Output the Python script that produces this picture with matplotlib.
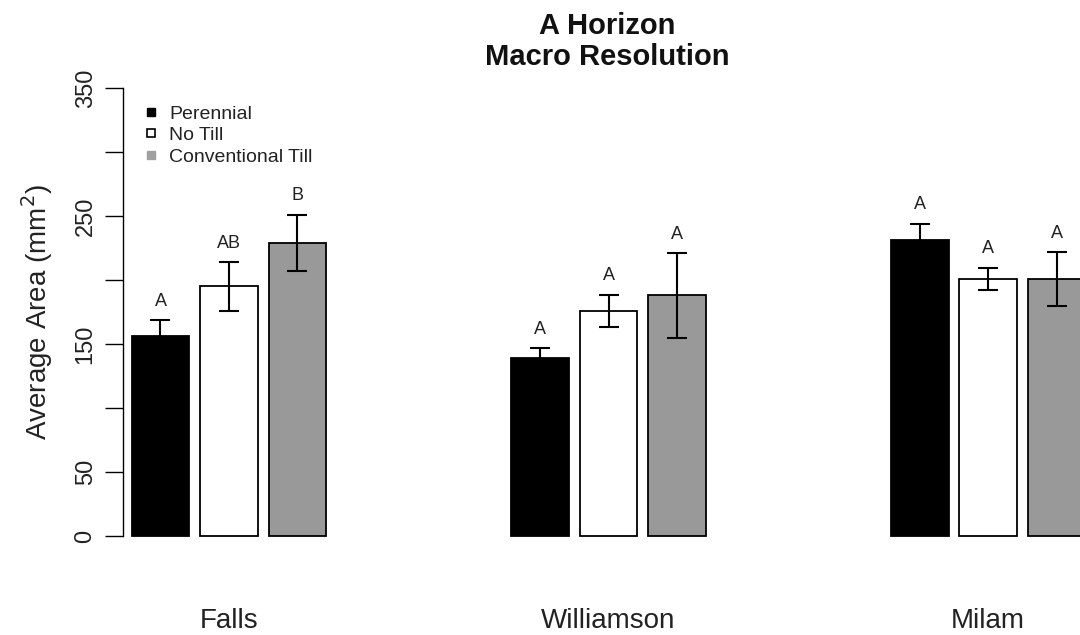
import matplotlib
matplotlib.use("Agg")
import matplotlib.pyplot as plt
from matplotlib.lines import Line2D
import numpy as np

plt.rcParams['font.family'] = ['Liberation Sans', 'DejaVu Sans']

# ---- data ----
sites = ["Falls", "Williamson", "Milam"]
treatments = ["Perennial", "No Till", "Conventional Till"]
perennial = [156, 139, 231]
no_till = [195, 176, 201]
conv_till = [229, 188, 201]
perennial_se = [12.5, 8, 13]
no_till_se = [19, 12.5, 8.7]
conv_till_se = [22, 33, 21]
perennial_grp = ["A", "A", "A"]
no_till_grp = ["AB", "A", "A"]
conv_till_grp = ["B", "A", "A"]
y_ticks = [0, 50, 100, 150, 200, 250, 300, 350]
y_tick_labels = ["0", "50", "", "150", "", "250", "", "350"]

series = [
    (perennial, perennial_se, perennial_grp, "black"),
    (no_till, no_till_se, no_till_grp, "white"),
    (conv_till, conv_till_se, conv_till_grp, "#999999"),
]

W, H = 1080, 635
fig = plt.figure(figsize=(W / 100, H / 100), dpi=100)
ax = fig.add_axes([123 / W, (H - 536) / H, (W - 123) / W, (536 - 88) / H])

group_x = np.arange(len(sites))
step = 0.1805
width = 0.1528
text_col = "#222222"

for i, (vals, errs, grps, col) in enumerate(series):
    xs = group_x + (i - 1) * step
    ax.bar(xs, vals, width=width, color=col, edgecolor="black",
           linewidth=1.3, clip_on=False, zorder=2)
    ax.errorbar(xs, vals, yerr=errs, fmt="none", ecolor="black",
                elinewidth=1.5, capsize=7, capthick=1.5, zorder=3,
                clip_on=False)
    for x, v, e, g in zip(xs, vals, errs, grps):
        ax.text(x, v + e + 8, g, ha="center", va="bottom",
                fontsize=13, color=text_col)

ax.set_xlim(-0.2793, 2.2424)
ax.set_ylim(0, 350)

for s in ["top", "right", "bottom"]:
    ax.spines[s].set_visible(False)
ax.spines["left"].set_linewidth(1.0)

ax.set_yticks(y_ticks)
ax.set_yticklabels(y_tick_labels, rotation=90, va="center",
                   fontsize=17, color=text_col)
ax.tick_params(axis="y", length=13, width=1.0, pad=6)

ax.set_xticks(group_x)
ax.set_xticklabels(sites, fontsize=20, color=text_col)
ax.tick_params(axis="x", length=0, pad=52)

ax.set_ylabel("Average Area (mm$^2$)", fontsize=20, color=text_col)
ax.yaxis.set_label_coords((55 - 123) / (W - 123), 0.5)

fig.text(607 / W, 1 - 12 / H, "A Horizon\nMacro Resolution",
         ha="center", va="top", fontsize=21, fontweight="bold",
         color="#111111", linespacing=1.15)

handles = [
    Line2D([], [], marker="s", linestyle="none", markersize=6,
           markerfacecolor="black", markeredgecolor="black"),
    Line2D([], [], marker="s", linestyle="none", markersize=6,
           markerfacecolor="white", markeredgecolor="black",
           markeredgewidth=1.2),
    Line2D([], [], marker="s", linestyle="none", markersize=6,
           markerfacecolor="#a0a0a0", markeredgecolor="#a0a0a0"),
]
leg = ax.legend(handles, treatments, loc="upper left",
                bbox_to_anchor=((143 - 123) / (W - 123), 1 - (105 - 88) / (536 - 88)),
                frameon=False, fontsize=14, handlelength=0.8,
                handletextpad=0.55, labelspacing=0.2, borderpad=0,
                borderaxespad=0)
for t in leg.get_texts():
    t.set_color(text_col)

fig.savefig("out.png", dpi=100)
